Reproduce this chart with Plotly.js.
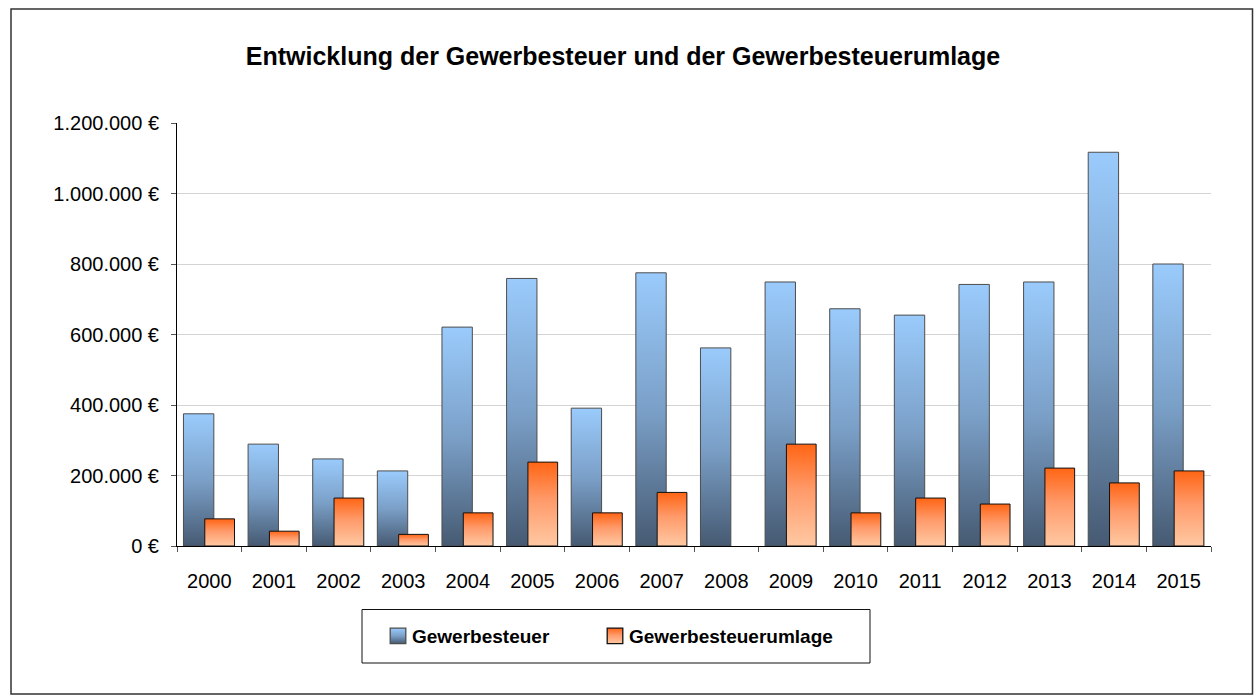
<!DOCTYPE html>
<html><head><meta charset="utf-8">
<script src="https://cdn.plot.ly/plotly-3.0.1.min.js"></script>
<style>html,body{margin:0;padding:0;background:#fff}#chart{width:1255px;height:695px}</style>
</head><body><div id="chart"></div>
<script>
const years = ['2000','2001','2002','2003','2004','2005','2006','2007','2008','2009','2010','2011','2012','2013','2014','2015'];
const gewerbesteuer = [375000, 289000, 247000, 213000, 621000, 759000, 391000, 775000, 562000, 749000, 673000, 655000, 742000, 749000, 1117000, 800000];
const umlage = [77000, 42000, 136000, 33000, 94000, 238000, 94000, 152000, null, 289000, 94000, 136000, 119000, 221000, 179000, 213000];
const yTickVals = [0, 200000, 400000, 600000, 800000, 1000000, 1200000];
const yTickText = ['0 €', '200.000 €', '400.000 €', '600.000 €', '800.000 €', '1.000.000 €', '1.200.000 €'];
const seriesNames = ['Gewerbesteuer', 'Gewerbesteuerumlage'];
const chartTitle = 'Entwicklung der Gewerbesteuer und der Gewerbesteuerumlage';

const FONT = '"Liberation Sans", Arial, sans-serif';

const traces = [
  {type:'bar', name: seriesNames[0], x: years, y: gewerbesteuer, offset: -0.40, width: 0.47,
   marker:{color:'#7fa3cc', line:{color:'#4d4d4d', width:1}}, hoverinfo:'skip'},
  {type:'bar', name: seriesNames[1], x: years, y: umlage, offset: -0.07, width: 0.46,
   marker:{color:'#ff9a66', line:{color:'#111', width:1}}, hoverinfo:'skip'}
];

const L = 177, R = 1211, T = 123, B = 546, W = 1255, H = 695;
const px = v => (v - L) / (R - L);
const py = v => (B - v) / (B - T);

const layout = {
  width: W, height: H,
  paper_bgcolor:'#fff', plot_bgcolor:'#fff',
  margin:{l:L, r:W-R, t:T, b:H-B, pad:0},
  font:{family: FONT, color:'#000', size:20},
  title:{text: chartTitle, font:{family: FONT, size:25, color:'#000', weight:'bold'},
         x: 623/W, xanchor:'center', y: 1-56/H, yanchor:'middle', xref:'container', yref:'container'},
  barmode:'overlay',
  showlegend:true,
  legend:{orientation:'h', x: px(372), xanchor:'left', y: py(636), yanchor:'middle',
          font:{family: FONT, size:19, color:'#000', weight:'bold'},
          bgcolor:'rgba(0,0,0,0)', borderwidth:0, entrywidth:172, entrywidthmode:'pixels', itemwidth:30,
          traceorder:'normal'},
  xaxis:{type:'category', showline:true, linecolor:'#000', linewidth:1, ticks:'outside', ticklen:5,
         tickcolor:'#555', tickson:'boundaries', showgrid:false, ticklabelstandoff:17,
         tickfont:{size:20, family: FONT, color:'#000'}, fixedrange:true},
  yaxis:{range:[0,1200000], tickvals: yTickVals, ticktext: yTickText, showline:true, linecolor:'#000',
         linewidth:1, ticks:'outside', ticklen:5, tickcolor:'#555', showgrid:true, gridcolor:'#d4d4d4',
         gridwidth:1, zeroline:false, ticklabelstandoff:8, tickfont:{size:20, family: FONT, color:'#000'},
         fixedrange:true},
  shapes:[
    {type:'rect', xref:'paper', yref:'paper', x0: px(11), x1: px(1252.5), y0: py(9), y1: py(694),
     line:{color:'#333', width:1.5}, fillcolor:'rgba(0,0,0,0)', layer:'below'},
    {type:'rect', xref:'paper', yref:'paper', x0: px(362), x1: px(870), y0: py(609.5), y1: py(663),
     line:{color:'#111', width:1}, fillcolor:'rgba(0,0,0,0)', layer:'above'}
  ]
};

function addGradients(gd){
  const svg = gd.querySelector('svg.main-svg');
  const NS = 'http://www.w3.org/2000/svg';
  let defs = svg.querySelector('defs');
  if(!defs){ defs = document.createElementNS(NS,'defs'); svg.insertBefore(defs, svg.firstChild); }
  const mk = (id, stops) => {
    const g = document.createElementNS(NS,'linearGradient');
    g.setAttribute('id', id); g.setAttribute('x1','0'); g.setAttribute('y1','0');
    g.setAttribute('x2','0'); g.setAttribute('y2','1');
    stops.forEach(([o,c]) => { const s = document.createElementNS(NS,'stop');
      s.setAttribute('offset', o); s.setAttribute('stop-color', c); g.appendChild(s); });
    defs.appendChild(g);
  };
  mk('gradBlue', [['0','#9acbfc'],['0.5','#7ba0c8'],['1','#465a72']]);
  mk('gradOrange', [['0','#ff6514'],['0.45','#ff9a6a'],['1','#ffc9a3']]);
  const ids = ['gradBlue','gradOrange'];
  gd.querySelectorAll('.barlayer .trace').forEach((t,i) => {
    t.querySelectorAll('path').forEach(p => { p.style.fill = 'url(#' + ids[i] + ')'; });
  });
  gd.querySelectorAll('.legend .traces').forEach((t,i) => {
    t.querySelectorAll('.legendpoints path').forEach(p => {
      p.style.fill = 'url(#' + ids[i] + ')';
      p.setAttribute('transform', 'translate(26,0) scale(1.3)');
    });
  });
  gd.querySelectorAll('.legend .scrollbox').forEach(s => s.removeAttribute('clip-path'));
}

Plotly.newPlot('chart', traces, layout, {staticPlot:true, displayModeBar:false}).then(addGradients);
</script>
</body></html>
